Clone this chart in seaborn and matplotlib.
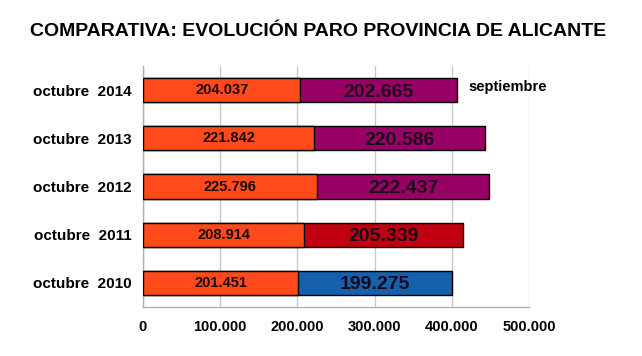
import numpy as np
import pandas as pd
import matplotlib.pyplot as plt
import seaborn as sns

sns.set_theme(style="white")
plt.rcParams["font.family"] = ["Liberation Sans", "DejaVu Sans"]
plt.rcParams["text.color"] = "black"

# --- data ---
years = ["octubre  2014", "octubre  2013", "octubre  2012", "octubre  2011", "octubre  2010"]
octubre = [204037, 221842, 225796, 208914, 201451]
septiembre = [202665, 220586, 222437, 205339, 199275]
sept_colors = ["#990066", "#990066", "#990066", "#c00010", "#1660ae"]
orange = "#ff4a1c"

df = pd.DataFrame({"year": years, "octubre": octubre, "septiembre": septiembre})
df["total"] = df["octubre"] + df["septiembre"]


def fmt(v):
    return f"{v:,}".replace(",", ".")


fig = plt.figure(figsize=(6.42, 3.56), dpi=100)
ax = fig.add_axes([0.2227, 0.1376, 0.6012, 0.677])

# second segment drawn as the full total, first segment on top
sns.barplot(data=df, x="total", y="year", hue="year", palette=sept_colors,
            legend=False, width=0.5, edgecolor="black", linewidth=1, ax=ax,
            zorder=3, saturation=1)
sns.barplot(data=df, x="octubre", y="year", color=orange, width=0.5,
            edgecolor="black", linewidth=1, ax=ax, zorder=4, saturation=1)

for i, row in df.iterrows():
    ax.text(row["octubre"] / 2, i, fmt(row["octubre"]), ha="center", va="center",
            fontsize=10.5, fontweight="bold", color="#1a0a0a", zorder=5)
    ax.text(row["octubre"] + row["septiembre"] / 2, i + 0.04, fmt(row["septiembre"]),
            ha="center", va="center", fontsize=14, fontweight="bold",
            color="#1a0a1a", zorder=5)

ax.text(421000, -0.06, "septiembre", ha="left", va="center", fontsize=10.5,
        fontweight="bold", color="black")

ax.set_xlim(0, 500000)
ax.set_ylim(4.5, -0.5)
ax.set_xticks(np.arange(0, 500001, 100000))
ax.set_xticklabels([fmt(v) for v in range(0, 500001, 100000)],
                   fontsize=10.5, fontweight="bold", color="black")
ax.set_yticks(range(len(years)))
ax.set_yticklabels(years, fontsize=11, fontweight="bold", color="black")
ax.set_xlabel("")
ax.set_ylabel("")
ax.grid(axis="x", color="#c8c8c8", linewidth=1, zorder=0)
ax.set_axisbelow(True)

for s in ["top", "right"]:
    ax.spines[s].set_visible(False)
for s in ["left", "bottom"]:
    ax.spines[s].set_color("#b0b0b0")
    ax.spines[s].set_linewidth(1)
ax.tick_params(axis="x", length=4, color="#b0b0b0", pad=5)
ax.tick_params(axis="y", length=0, pad=8)

fig.suptitle("COMPARATIVA: EVOLUCIÓN PARO PROVINCIA DE ALICANTE",
             fontsize=14, fontweight="bold", x=0.495, y=0.935, color="black")

fig.savefig("out.png", dpi=100)
